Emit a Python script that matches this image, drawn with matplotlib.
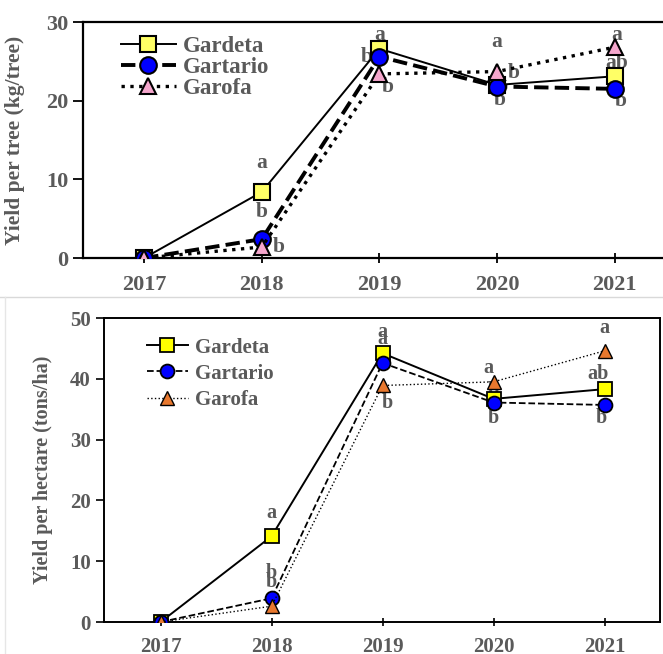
import matplotlib
matplotlib.use('Agg')
import matplotlib.pyplot as plt
from matplotlib.lines import Line2D

plt.rcParams['font.family'] = ['Liberation Serif', 'DejaVu Serif']
plt.rcParams['font.weight'] = 'bold'
plt.rcParams['axes.labelweight'] = 'bold'

years = [2017, 2018, 2019, 2020, 2021]
cultivars = ['Gardeta', 'Gartario', 'Garofa']

# yield per tree (kg/tree)
tree_gardeta = [0.0, 8.4, 26.6, 22.0, 23.1]
tree_gartario = [0.0, 2.4, 25.6, 21.8, 21.5]
tree_garofa = [0.0, 1.4, 23.4, 23.7, 26.8]

# yield per hectare (tons/ha)
ha_gardeta = [0.0, 14.1, 44.2, 36.7, 38.3]
ha_gartario = [0.0, 3.9, 42.6, 36.1, 35.7]
ha_garofa = [0.0, 2.6, 38.9, 39.5, 44.6]

# significance letters: (year, value, letter)
tree_letters = [(2018, 12.1, 'a'), (2018, 5.8, 'b'), (2018.14, 1.4, 'b'),
                (2019, 28.4, 'a'), (2018.89, 25.6, 'b'), (2019.07, 21.7, 'b'),
                (2020, 27.5, 'a'), (2020.14, 23.5, 'b'), (2020.02, 20.1, 'b'),
                (2021.02, 28.4, 'a'), (2021.02, 24.8, 'ab'), (2021.05, 19.9, 'b')]
ha_letters = [(2018, 17.9, 'a'), (2018, 8.1, 'b'), (2018, 6.6, 'b'),
              (2019, 47.7, 'a'), (2019, 46.5, 'a'), (2019.04, 36.0, 'b'),
              (2019.95, 41.8, 'a'), (2020, 38.0, 'b'), (2020, 33.5, 'b'),
              (2021, 48.3, 'a'), (2020.94, 40.8, 'ab'), (2020.97, 33.5, 'b')]

gray = '#5a5a5a'

fig = plt.figure(figsize=(6.63, 6.54), dpi=100)

# ---- top panel ----
ax1 = fig.add_axes([83/663, 1-258/654, 580/663, 236/654])
ax1.plot(years, tree_gardeta, '-', color='black', lw=1.4, marker='s', ms=12,
         mfc='#ffff66', mec='black', mew=1.5, label='Gardeta', zorder=4)
ax1.plot(years, tree_gartario, '--', color='black', lw=2.8, marker='o', ms=12,
         mfc='#0000ff', mec='black', mew=1.5, label='Gartario', zorder=5)
ax1.plot(years, tree_garofa, ':', color='black', lw=2.4, marker='^', ms=12,
         mfc='#f4a6cc', mec='black', mew=1.5, label='Garofa', zorder=6)
for x, y, t in tree_letters:
    ax1.text(x, y, t, ha='center', va='center', fontsize=15.5, color=gray, zorder=3)
ax1.set_xlim(2016.48, 2021.41)
ax1.set_ylim(0, 30)
ax1.set_yticks([0, 10, 20, 30])
ax1.set_xticks(years)
ax1.spines['right'].set_visible(False)
for s in ['top', 'bottom', 'left']:
    ax1.spines[s].set_linewidth(1.6)
ax1.tick_params(axis='y', direction='out', length=7, width=1.3, labelsize=16,
                labelcolor=gray)
ax1.tick_params(axis='x', direction='inout', length=7, width=1.3, labelsize=16,
                labelcolor=gray, pad=9)
ax1.set_ylabel('Yield per tree (kg/tree)', fontsize=15.5, color=gray)
ax1.yaxis.set_label_coords(-0.1, 0.5)
ax1.legend(loc='upper left', bbox_to_anchor=(0.045, 0.99), frameon=False,
           fontsize=16.5, handlelength=2.4, handletextpad=0.3, labelspacing=0.0,
           borderpad=0, labelcolor=gray)

# ---- bottom panel ----
ax2 = fig.add_axes([104/663, 1-622/654, 556/663, 304/654])
ax2.plot(years, ha_gardeta, '-', color='black', lw=1.4, marker='s', ms=9.5,
         mfc='#ffff00', mec='black', mew=1.3, label='Gardeta', zorder=4)
ax2.plot(years, ha_gartario, '--', color='black', lw=1.3, marker='o', ms=10,
         mfc='#0000ff', mec='black', mew=1.3, label='Gartario', zorder=5)
ax2.plot(years, ha_garofa, ':', color='black', lw=1.0, marker='^', ms=10,
         mfc='#e8782e', mec='black', mew=1.0, label='Garofa', zorder=6)
for x, y, t in ha_letters:
    ax2.text(x, y, t, ha='center', va='center', fontsize=14.5, color=gray, zorder=3)
ax2.set_xlim(2016.49, 2021.5)
ax2.set_ylim(0, 50)
ax2.set_yticks([0, 10, 20, 30, 40, 50])
ax2.set_xticks(years)
for s in ax2.spines.values():
    s.set_linewidth(1.4)
ax2.tick_params(axis='y', direction='out', length=6, width=1.2, labelsize=15,
                labelcolor=gray)
ax2.tick_params(axis='x', direction='inout', length=6, width=1.2, labelsize=15,
                labelcolor=gray, pad=8)
ax2.set_ylabel('Yield per hectare (tons/ha)', fontsize=14.5, color=gray)
ax2.yaxis.set_label_coords(-0.092, 0.5)
ax2.legend(loc='upper left', bbox_to_anchor=(0.058, 0.97), frameon=False,
           fontsize=15, handlelength=2.0, handletextpad=0.3, labelspacing=0.3,
           borderpad=0, labelcolor=gray)

# faint frame separating the two panels
fig.add_artist(Line2D([0, 1], [1-297/654, 1-297/654], color='#d9d9d9', lw=1))
fig.add_artist(Line2D([5/663, 5/663], [0, 1-297/654], color='#e6e6e6', lw=1))

fig.savefig('out.png', dpi=100)
